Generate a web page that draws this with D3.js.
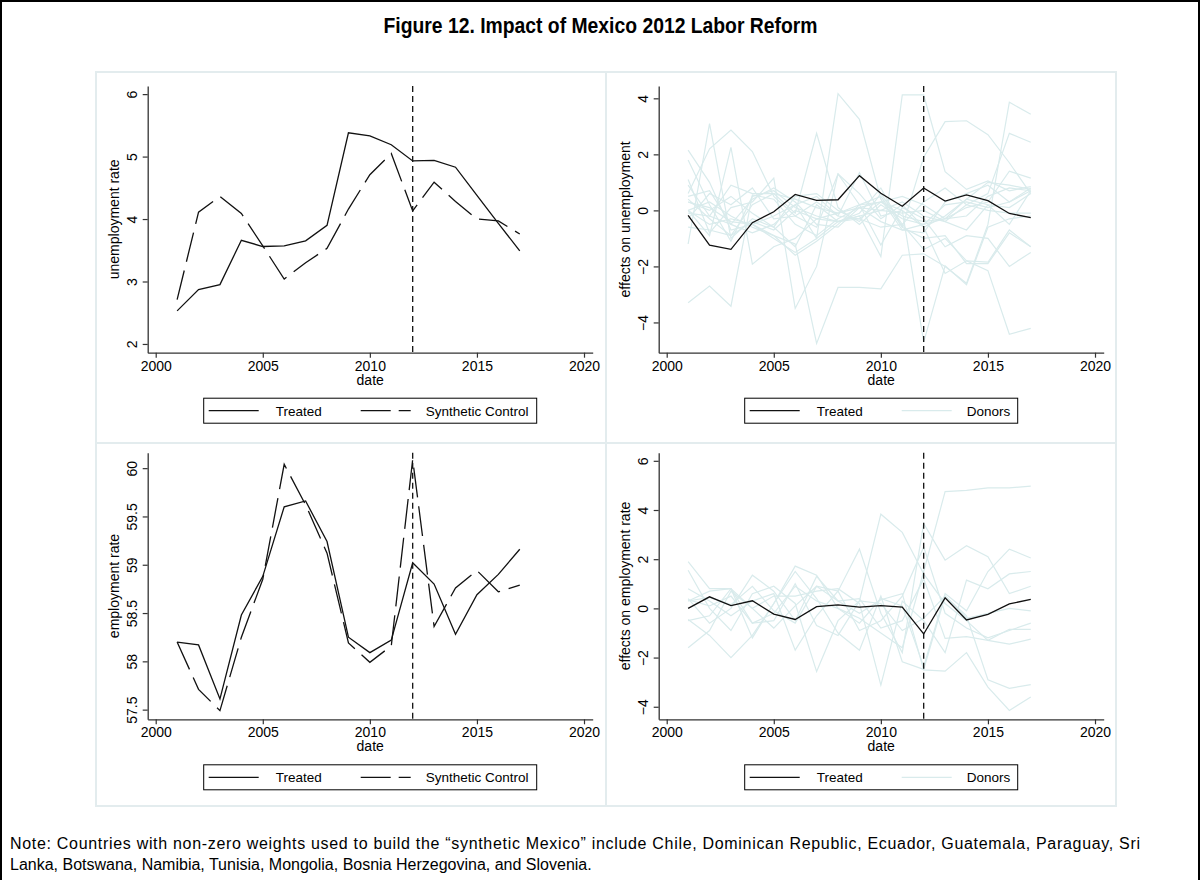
<!DOCTYPE html>
<html>
<head>
<meta charset="utf-8">
<script src="https://cdn.jsdelivr.net/npm/d3@7/dist/d3.min.js"></script>
<style>
body { margin: 0; background: #fff; }
svg text { font-family: "Liberation Sans", Arial, sans-serif; fill: #000; }
.narrow { font-family: "Liberation Sans Narrow", "Arial Narrow", "Liberation Sans", sans-serif; }
</style>
</head>
<body>
<script>
// ---- data ----
const years = [2001, 2002, 2003, 2004, 2005, 2006, 2007, 2008, 2009, 2010, 2011, 2012, 2013, 2014, 2015, 2016, 2017];
const reformYear = 2012;
const xTicks = [2000, 2005, 2010, 2015, 2020];

// unemployment rate
const unempTreated = [2.53, 2.87, 2.95, 3.66, 3.56, 3.57, 3.65, 3.90, 5.38, 5.33, 5.19, 4.93, 4.94, 4.83, 4.38, 3.93, 3.49];
const unempSynth   = [2.71, 4.11, 4.36, 4.09, 3.57, 3.04, 3.30, 3.53, 4.16, 4.71, 5.05, 4.13, 4.59, 4.28, 4.00, 3.97, 3.76];
const unempTicks = [2, 3, 4, 5, 6];

// effects on unemployment (treated minus synthetic) and placebo donors
const unempEffect = [-0.18, -1.24, -1.39, -0.44, -0.05, 0.57, 0.36, 0.38, 1.24, 0.61, 0.15, 0.80, 0.33, 0.55, 0.35, -0.11, -0.26];
const unempDonors = [
  [-3.3, -2.7, -3.42, 0.55, 0.4, -0.5, -0.9, -0.3, 0.1, -0.4, -0.7, -0.5, 0.2, 0.3, 0.1, 0.3, 0.8],
  [-1.2, 3.1, -1.0, -0.3, -0.6, -1.3, 0.2, -0.4, -0.3, 0.3, -0.2, -0.4, -0.3, 0.1, 0.3, 1.4, 1.15],
  [0.0, -0.9, 2.25, -1.92, -1.3, -1.0, -0.3, -0.4, -0.1, 0.8, -0.6, -1.0, -0.9, -1.9, -1.9, -0.8, -1.3],
  [0.6, 2.2, 2.87, 2.1, 0.5, -0.2, -0.6, 1.3, 0.2, -1.24, 0.1, -0.3, -1.3, -0.9, -1.0, -2.0, -1.5],
  [2.15, 1.0, -0.7, -0.5, -0.9, -1.6, -1.1, -0.5, 0.2, 0.5, -0.6, 1.9, 3.17, 3.2, 2.7, 1.7, 0.6],
  [1.8, 0.2, -1.1, 0.5, 0.7, 0.1, -0.2, -0.4, -0.2, 0.0, -0.1, 0.0, -0.4, 0.2, 0.6, 2.75, 2.43],
  [1.1, -0.8, 0.1, 0.3, 1.15, -3.5, -2.0, 1.3, 0.6, -0.3, 0.2, -0.6, -2.25, -1.8, -1.85, -0.7, -1.3],
  [0.0, 0.3, -0.2, -0.6, -0.9, -1.2, -4.75, -2.75, -2.75, -2.8, -1.6, -1.55, -2.0, -2.6, -0.5, 3.86, 3.43],
  [0.3, 0.1, -0.4, -0.5, -0.2, 0.2, -1.0, 4.17, 3.25, 0.4, -0.7, -0.8, 0.3, 0.6, 0.9, 0.3, 0.7],
  [0.4, -0.3, -0.9, 0.2, 0.6, -0.1, 2.75, 0.1, -0.5, 0.2, -0.3, -0.5, -0.3, 0.4, 0.2, 0.1, 0.6],
  [0.0, -0.5, -0.3, -0.5, -1.0, -1.5, -1.0, -0.4, -0.2, -1.65, 4.12, 4.12, 1.38, 0.75, 1.05, 0.7, 0.85],
  [-0.6, -0.7, -0.9, -0.4, -0.7, 0.0, -0.3, -0.1, 0.1, 0.3, 0.0, -4.7, -1.98, -2.65, -0.6, -0.3, -0.2],
  [0.5, 0.7, -0.5, -0.8, -0.5, 0.2, 0.5, -0.2, -0.3, -0.6, -0.5, -1.4, -1.0, -1.8, -2.15, -4.42, -4.21],
  [0.9, -0.2, -0.5, 0.4, 0.8, 0.3, -0.5, -0.6, 0.1, 0.0, 0.3, -0.2, -0.4, -0.7, 0.2, -0.5, 0.7],
  [-0.3, 0.6, 0.2, 0.8, -0.3, -0.2, 0.3, -0.2, 1.35, -0.2, 0.0, -0.6, -0.2, 0.4, 1.0, 0.9, 0.75],
  [0.3, 0.0, 0.5, -0.1, -0.6, 0.5, 0.6, 0.0, -0.4, 0.6, -0.5, 0.3, 0.8, 0.2, 0.0, -0.1, -0.1],
  [-0.1, -0.2, 0.9, 0.6, 0.6, 0.4, 0.1, -0.1, 0.2, 0.3, 0.5, 0.2, -0.3, -0.2, 0.5, 0.8, 0.7]
];
const unempEffectTicks = [-4, -2, 0, 2, 4];

// employment rate
const empTreated = [58.20, 58.17, 57.61, 58.48, 58.88, 59.60, 59.66, 59.24, 58.25, 58.09, 58.22, 59.02, 58.80, 58.28, 58.69, 58.90, 59.16];
const empSynth   = [58.20, 57.71, 57.49, 58.25, 58.85, 60.04, 59.62, 59.12, 58.19, 57.99, 58.16, 60.09, 58.36, 58.76, 58.94, 58.72, 58.79];
const empTicks = [57.5, 58, 58.5, 59, 59.5, 60];

// effects on employment rate and placebo donors
const empEffect = [0.00, 0.47, 0.11, 0.31, -0.23, -0.45, 0.07, 0.14, 0.05, 0.11, 0.05, -1.04, 0.43, -0.47, -0.24, 0.18, 0.37];
const empDonors = [
  [0.35, 0.1, 0.5, -0.6, -0.2, 0.9, 0.3, 0.0, -0.4, -1.0, -1.6, 1.5, 4.75, 4.8, 4.9, 4.9, 4.97],
  [1.9, 0.8, 0.8, -1.2, 0.2, 1.72, 1.35, 0.0, -0.6, 0.4, 0.1, -2.37, 0.6, -0.1, 1.5, 2.41, 2.05],
  [-1.6, -0.9, 0.7, 0.0, -0.8, 0.1, 0.9, 0.7, 2.41, -0.2, -1.8, 3.45, 1.96, 2.55, 2.1, 0.6, 0.9],
  [1.55, 0.0, -0.9, 0.6, 0.9, 0.2, -2.57, -0.5, 0.3, 3.83, 3.09, 1.4, 0.2, -0.5, -1.3, -1.45, -1.25],
  [0.3, 0.7, 0.8, 0.0, 0.5, 0.5, 0.7, 0.8, 0.2, -3.12, 0.3, -0.5, -1.8, 1.15, 0.8, 1.4, 1.5],
  [-0.45, -1.1, -2.0, -1.1, 0.2, 1.5, 0.4, -1.0, -1.7, 0.5, -2.17, -2.48, 0.5, -0.3, -2.9, -3.25, -3.1],
  [0.3, 0.45, 0.15, 0.9, -0.1, -0.6, 0.9, 0.3, -0.2, 0.35, 0.6, -2.5, -2.55, -1.8, -3.2, -4.15, -3.6],
  [0.4, -0.6, 0.0, 1.35, 0.7, -0.5, 1.3, 0.3, 0.4, -0.8, -0.5, 1.2, -1.22, -1.15, -1.3, -0.85, -0.85],
  [-0.5, -0.3, 0.8, -0.6, -0.5, 1.0, -0.7, -1.1, 0.3, 0.2, -0.9, -0.4, 0.5, -0.4, -0.2, 0.0, -0.1],
  [0.8, 0.3, -0.3, 0.3, 0.6, -1.7, -0.3, 0.7, -0.9, -0.5, 0.5, 2.5, -0.2, -0.8, -1.2, -0.9, -0.6]
];
const empEffectTicks = [-4, -2, 0, 2, 4, 6];

const titleText = "Figure 12. Impact of Mexico 2012 Labor Reform";
const noteLines = [
  "Note: Countries with non-zero weights used to build the \u201csynthetic Mexico\u201d include Chile, Dominican Republic, Ecuador, Guatemala, Paraguay, Sri",
  "Lanka, Botswana, Namibia, Tunisia, Mongolia, Bosnia Herzegovina, and Slovenia."
];

// ---- layout ----
const width = 1201, height = 880;
const donorColor = "#d9ebec";
const lineColor = "#111";
const axisColor = "#333";
const plotW = 445;

const svg = d3.select("body").append("svg")
  .attr("width", width)
  .attr("height", height);

// outer frame
svg.append("rect")
  .attr("x", 1).attr("y", 1)
  .attr("width", width - 3).attr("height", height + 10)
  .attr("fill", "none").attr("stroke", "#000").attr("stroke-width", 2);

// title (narrow bold look: squeeze regular bold into the reference width)
svg.append("text")
  .attr("class", "narrow")
  .attr("x", width / 2).attr("y", 33)
  .attr("text-anchor", "middle")
  .attr("font-size", 22).attr("font-weight", "bold")
  .attr("textLength", 434).attr("lengthAdjust", "spacingAndGlyphs")
  .text(titleText);

// panel frames (light graph-region borders)
const cells = [[96, 72], [606, 72], [96, 443], [606, 443]];
svg.selectAll("rect.cell")
  .data(cells)
  .enter()
  .append("rect")
  .attr("class", "cell")
  .attr("x", d => d[0]).attr("y", d => d[1])
  .attr("width", 510).attr("height", d => d[1] === 72 ? 371 : 363)
  .attr("fill", "none").attr("stroke", "#e3ecee").attr("stroke-width", 2);

const panels = [
  { left: 147.7, top: 86, bottom: 352.7, yDomain: [1.86, 6.13], yTicks: unempTicks, yTitle: "unemployment rate",
    series: [{ values: unempTreated, dash: null }, { values: unempSynth, dash: "30,9" }],
    donors: [], legend: ["Treated", "Synthetic Control"] },
  { left: 658.7, top: 86, bottom: 352.7, yDomain: [-5.08, 4.44], yTicks: unempEffectTicks, yTitle: "effects on unemployment",
    series: [{ values: unempEffect, dash: null }],
    donors: unempDonors, legend: ["Treated", "Donors"] },
  { left: 147.7, top: 452.7, bottom: 719.3, yDomain: [57.40, 60.16], yTicks: empTicks, yTitle: "employment rate",
    series: [{ values: empTreated, dash: null }, { values: empSynth, dash: "30,9" }],
    donors: [], legend: ["Treated", "Synthetic Control"] },
  { left: 658.7, top: 452.7, bottom: 719.3, yDomain: [-4.51, 6.33], yTicks: empEffectTicks, yTitle: "effects on employment rate",
    series: [{ values: empEffect, dash: null }],
    donors: empDonors, legend: ["Treated", "Donors"] }
];

panels.forEach(drawPanel);

function drawPanel(p) {
  const x = d3.scaleLinear().domain([1999.626, 2020.406]).range([p.left, p.left + plotW]);
  const y = d3.scaleLinear().domain(p.yDomain).range([p.bottom, p.top]);
  const g = svg.append("g");

  const line = d3.line()
    .x((d, i) => x(years[i]))
    .y(d => y(d));

  // donors first, underneath
  g.selectAll("path.donor")
    .data(p.donors)
    .enter()
    .append("path")
    .attr("class", "donor")
    .attr("d", line)
    .attr("fill", "none")
    .attr("stroke", donorColor)
    .attr("stroke-width", 1.2);

  g.selectAll("path.series")
    .data(p.series)
    .enter()
    .append("path")
    .attr("class", "series")
    .attr("d", d => line(d.values))
    .attr("fill", "none")
    .attr("stroke", lineColor)
    .attr("stroke-width", 1.3)
    .attr("stroke-dasharray", d => d.dash);

  // reform year marker
  g.append("line")
    .attr("x1", x(reformYear)).attr("x2", x(reformYear))
    .attr("y1", p.top).attr("y2", p.bottom)
    .attr("stroke", lineColor).attr("stroke-width", 1.3)
    .attr("stroke-dasharray", "6,4");

  // x axis
  const xa = g.append("g")
    .attr("transform", `translate(0,${p.bottom})`)
    .call(d3.axisBottom(x).tickValues(xTicks).tickFormat(d3.format("d")).tickSize(5).tickSizeOuter(0).tickPadding(3));
  styleAxis(xa);

  // y axis, labels rotated like Stata
  const ya = g.append("g")
    .attr("transform", `translate(${p.left},0)`)
    .call(d3.axisLeft(y).tickValues(p.yTicks).tickFormat(d3.format("")).tickSize(5).tickSizeOuter(0));
  styleAxis(ya);
  ya.selectAll(".tick text")
    .attr("x", 0).attr("dy", "0.35em")
    .attr("text-anchor", "middle")
    .attr("transform", "translate(-16,0) rotate(-90)");

  g.append("text")
    .attr("transform", `translate(${p.left - 29},${(p.top + p.bottom) / 2}) rotate(-90)`)
    .attr("text-anchor", "middle")
    .attr("font-size", 14)
    .text(p.yTitle);

  g.append("text")
    .attr("x", p.left + plotW / 2).attr("y", p.bottom + 32)
    .attr("text-anchor", "middle")
    .attr("font-size", 14)
    .text("date");

  // legend
  const cx = p.left + plotW / 2;
  const lw = p.legend[1] === "Donors" ? 273 : 333;
  const lx = cx - lw / 2, ly = p.bottom + 45.5;
  const leg = g.append("g").attr("transform", `translate(${lx},${ly})`);
  leg.append("rect")
    .attr("width", lw).attr("height", 25)
    .attr("fill", "#fff").attr("stroke", "#000").attr("stroke-width", 1);
  const items = p.legend.map((name, i) => ({
    name: name,
    x0: i === 0 ? 5 : 157,
    tx: i === 0 ? 72 : 222,
    dash: p.series[i] ? p.series[i].dash : null,
    color: name === "Donors" ? donorColor : lineColor
  }));
  leg.selectAll("line.key")
    .data(items)
    .enter()
    .append("line")
    .attr("class", "key")
    .attr("x1", d => d.x0).attr("x2", d => d.x0 + 50)
    .attr("y1", 12.5).attr("y2", 12.5)
    .attr("stroke", d => d.color).attr("stroke-width", 1.3)
    .attr("stroke-dasharray", d => d.dash ? "30,8" : null);
  leg.selectAll("text.key")
    .data(items)
    .enter()
    .append("text")
    .attr("class", "key")
    .attr("x", d => d.tx).attr("y", 17.5)
    .attr("font-size", 13.5)
    .text(d => d.name);
}

function styleAxis(a) {
  a.select(".domain").attr("stroke", axisColor).attr("stroke-width", 1.3);
  a.selectAll(".tick line").attr("stroke", axisColor).attr("stroke-width", 1.2);
  a.selectAll(".tick text")
    .attr("font-size", 14)
    .attr("font-family", "Liberation Sans, Arial, sans-serif")
    .attr("fill", "#000");
}

// note under the figure; first line is stretched to the right margin
svg.selectAll("text.note")
  .data(noteLines)
  .enter()
  .append("text")
  .attr("class", "note narrow")
  .attr("font-size", 16)
  .attr("x", 10)
  .attr("y", (d, i) => 849 + i * 21)
  .attr("textLength", (d, i) => i === 0 ? 1130 : null)
  .attr("lengthAdjust", "spacing")
  .text(d => d);
</script>
</body>
</html>
